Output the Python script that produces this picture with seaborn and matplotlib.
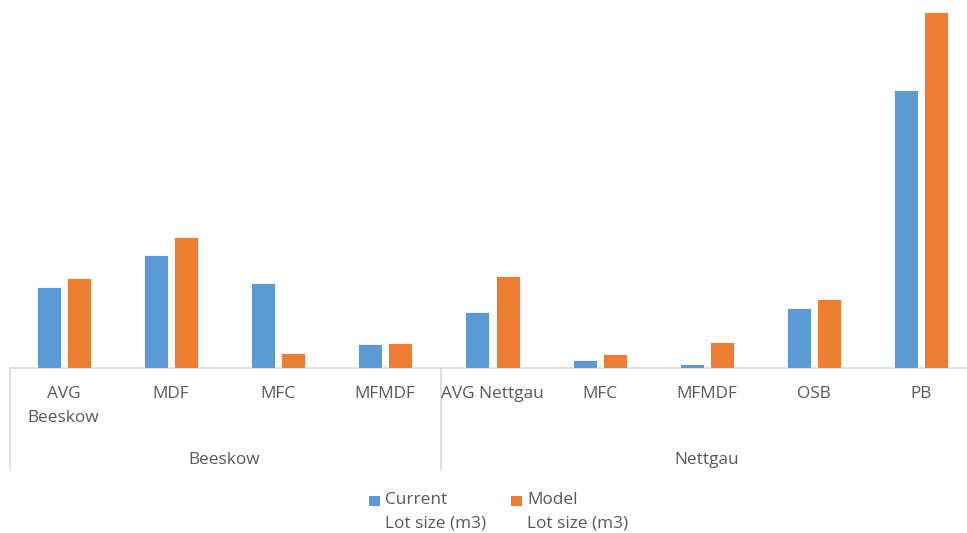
import matplotlib
matplotlib.use("Agg")
import matplotlib.pyplot as plt
from matplotlib.patches import Rectangle
import seaborn as sns
import pandas as pd

# Lot sizes per plant and product line
plants = ["Beeskow"] * 4 + ["Nettgau"] * 5
products = ["AVG\nBeeskow", "MDF", "MFC", "MFMDF",
            "AVG Nettgau", "MFC ", "MFMDF ", "OSB", "PB"]
current_lot = [80.7, 112.7, 84.7, 24.0, 55.7, 8.0, 4.0, 59.7, 278.0]
model_lot = [90.0, 131.3, 14.7, 25.0, 91.7, 13.7, 25.7, 69.0, 356.3]
series = ["Current\nLot size (m3)", "Model\nLot size (m3)"]
colors = ["#5B9BD5", "#ED7D31"]

df = pd.DataFrame({
    "product": products * 2,
    "series": [series[0]] * len(products) + [series[1]] * len(products),
    "value": current_lot + model_lot,
})

sns.set_theme(style="white")
plt.rcParams["font.family"] = ["Open Sans", "DejaVu Sans"]
TEXT = "#595959"
GRID = "#D9D9D9"
FS = 12.4

fig = plt.figure(figsize=(9.67, 5.33), dpi=100)
W, H = 967, 533
ax = fig.add_axes([10 / W, (H - 368) / H, (975 - 10) / W, (368 - 8) / H])

sns.barplot(data=df, x="product", y="value", hue="series", order=products,
            hue_order=series, palette=colors, saturation=1,
            width=0.56, gap=0.2, edgecolor="white", linewidth=0.6,
            ax=ax, legend=False)

ax.set_xlim(-0.5, len(products) - 0.5)
ax.set_ylim(0, 360)
ax.set_xlabel("")
ax.set_ylabel("")
ax.set_xticks([])
ax.set_yticks([])
for s in ax.spines.values():
    s.set_visible(False)

# category axis line
ax.axhline(0, color=GRID, lw=1.2, clip_on=False, zorder=0)

tr = ax.get_xaxis_transform()
px = 1 / 360  # one pixel in axes-y units

# product labels
for i, p in enumerate(products):
    ax.text(i, -18 * px, p.strip(), transform=tr, ha="center", va="top",
            fontsize=FS, color=TEXT, linespacing=1.66)

# plant group dividers and labels
n_b = plants.count("Beeskow")
for xb in [-0.5, n_b - 0.48]:
    ax.plot([xb, xb], [0, -102 * px], transform=tr, color=GRID, lw=1.2,
            clip_on=False)
ax.text((n_b - 1) / 2, -91.5 * px, "Beeskow", transform=tr, ha="center",
        va="center", fontsize=FS, color=TEXT)
ax.text((n_b + len(products) - 1) / 2, -91.5 * px, "Nettgau", transform=tr,
        ha="center", va="center", fontsize=FS, color=TEXT)

# legend: colour key next to the first line of each two-line label
for x0, lab, col in zip([369, 511], series, colors):
    fig.add_artist(Rectangle((x0 / W, 1 - 506 / H), 11 / W, 10 / H,
                             transform=fig.transFigure, color=col, lw=0))
    fig.text((x0 + 16) / W, 1 - 492 / H, lab, ha="left", va="top",
             fontsize=FS, color=TEXT, linespacing=1.66)

fig.savefig("out.png", dpi=100, facecolor="white")
